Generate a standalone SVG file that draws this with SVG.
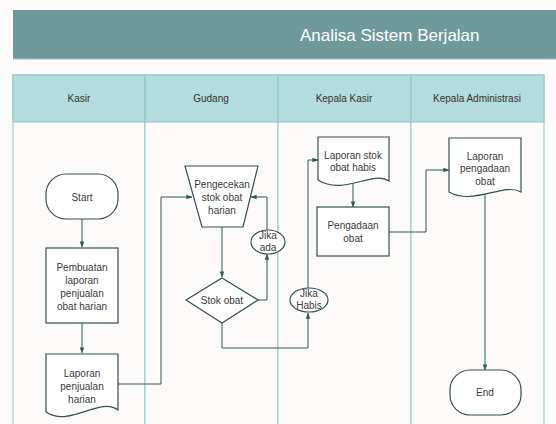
<svg xmlns="http://www.w3.org/2000/svg" width="556" height="424" viewBox="0 0 556 424">
<defs>
<style>
.lane{fill:#fbfaf8;stroke:#8ec6c6;stroke-width:1}
.hdr{fill:#b3dcdc;stroke:#8ec6c6;stroke-width:1}
.hl{font-family:"Liberation Sans",Arial,sans-serif;font-size:10px;fill:#333;text-anchor:middle}
.sh{fill:#ffffff;stroke:#34504f;stroke-width:1.2}
.t{font-family:"Liberation Sans",Arial,sans-serif;font-size:10px;fill:#3a3a3a;text-anchor:middle}
.c{fill:none;stroke:#2f5a59;stroke-width:1}
</style>
<marker id="ah" viewBox="0 0 8 8" refX="7.5" refY="4" markerWidth="6" markerHeight="6" orient="auto">
<path d="M0,1 L8,4 L0,7 Z" fill="#2f5a59"/>
</marker>
</defs>
<rect x="0" y="0" width="556" height="424" fill="#fcfbf9"/>
<g id="banner">
<rect x="13" y="10" width="543" height="49" fill="#6e9b9a"/>
<line x1="13" y1="59" x2="556" y2="59" stroke="#9cc3c2"/>
<text x="300" y="41" font-family="'Liberation Sans',Arial,sans-serif" font-size="17" fill="#ffffff">Analisa Sistem Berjalan</text>
</g>
<g id="lanes">
<rect class="lane" x="13" y="75" width="132" height="360"/>
<rect class="lane" x="145" y="75" width="133" height="360"/>
<rect class="lane" x="278" y="75" width="133" height="360"/>
<rect class="lane" x="411" y="75" width="133" height="360"/>
<rect class="hdr" x="13" y="75" width="132" height="47"/>
<rect class="hdr" x="145" y="75" width="133" height="47"/>
<rect class="hdr" x="278" y="75" width="133" height="47"/>
<rect class="hdr" x="411" y="75" width="133" height="47"/>
<text class="hl" x="79" y="102">Kasir</text>
<text class="hl" x="211" y="102">Gudang</text>
<text class="hl" x="344" y="102">Kepala Kasir</text>
<text class="hl" x="477" y="102">Kepala Administrasi</text>
</g>
<g id="connectors">
<line class="c" x1="82" y1="219" x2="82" y2="247" marker-end="url(#ah)"/>
<line class="c" x1="82" y1="323" x2="82" y2="353" marker-end="url(#ah)"/>
<polyline class="c" points="118,384 161,384 161,197 192,197" marker-end="url(#ah)"/>
<line class="c" x1="222" y1="227" x2="222" y2="277" marker-end="url(#ah)"/>
<polyline class="c" points="257,300 267,300 267,254" marker-end="url(#ah)"/>
<polyline class="c" points="267,230 267,197 251,197" marker-end="url(#ah)"/>
<polyline class="c" points="222,323 222,348 308,348 308,313" marker-end="url(#ah)"/>
<polyline class="c" points="308,288 308,160 318,160" marker-end="url(#ah)"/>
<line class="c" x1="353" y1="182" x2="353" y2="207" marker-end="url(#ah)"/>
<polyline class="c" points="389,232 426,232 426,170 449,170" marker-end="url(#ah)"/>
<line class="c" x1="485" y1="192" x2="485" y2="370" marker-end="url(#ah)"/>
</g>
<g id="start">
<rect class="sh" x="46" y="174" width="72" height="45" rx="20" ry="20"/>
<text class="t" x="82" y="201">Start</text>
</g>
<g id="pembuatan">
<rect class="sh" x="46" y="248" width="72" height="75"/>
<text class="t" x="82" y="271">Pembuatan</text>
<text class="t" x="82" y="284">laporan</text>
<text class="t" x="82" y="297">penjualan</text>
<text class="t" x="82" y="310">obat harian</text>
</g>
<g id="laporan-penjualan">
<path class="sh" d="M46,354 H118 V410 C100,396 70,428 46,412 Z"/>
<text class="t" x="82" y="377">Laporan</text>
<text class="t" x="82" y="390">penjualan</text>
<text class="t" x="82" y="403">harian</text>
</g>
<g id="pengecekan">
<path class="sh" d="M185,166 H258 L243,227 H202 Z"/>
<text class="t" x="222" y="188">Pengecekan</text>
<text class="t" x="222" y="201">stok obat</text>
<text class="t" x="222" y="214">harian</text>
</g>
<g id="stok-obat">
<path class="sh" d="M222,278 L258,300 L222,323 L186,300 Z"/>
<text class="t" x="222" y="304">Stok obat</text>
</g>
<g id="jika-ada">
<ellipse class="sh" cx="268" cy="242" rx="17" ry="12"/>
<text class="t" x="268" y="239">Jika</text>
<text class="t" x="268" y="251">ada</text>
</g>
<g id="jika-habis">
<ellipse class="sh" cx="309" cy="300" rx="19" ry="12"/>
<text class="t" x="309" y="297">Jika</text>
<text class="t" x="309" y="309">Habis</text>
</g>
<g id="laporan-stok-habis">
<path class="sh" d="M318,137 H389 V181 C372,170 344,196 318,180 Z"/>
<text class="t" x="353" y="159">Laporan stok</text>
<text class="t" x="353" y="171">obat habis</text>
</g>
<g id="pengadaan">
<rect class="sh" x="317" y="207" width="72" height="49"/>
<text class="t" x="353" y="229">Pengadaan</text>
<text class="t" x="353" y="242">obat</text>
</g>
<g id="laporan-pengadaan">
<path class="sh" d="M449,138 H521 V192 C504,182 474,206 449,192 Z"/>
<text class="t" x="485" y="160">Laporan</text>
<text class="t" x="485" y="172">pengadaan</text>
<text class="t" x="485" y="185">obat</text>
</g>
<g id="end">
<rect class="sh" x="450" y="370" width="71" height="45" rx="20" ry="20"/>
<text class="t" x="485" y="396">End</text>
</g>
</svg>
